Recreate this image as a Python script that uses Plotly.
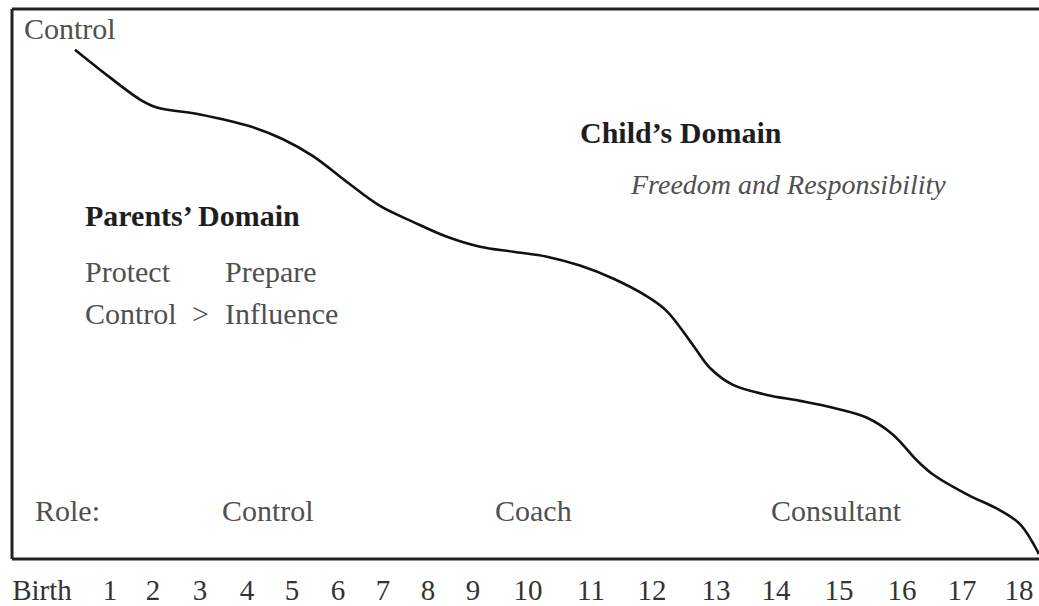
import plotly.graph_objects as go

# Age tick labels along the bottom
tick_labels = ["Birth"] + [str(i) for i in range(1, 19)]
tick_pos = [42, 110, 153, 200, 247, 292, 338, 383, 428, 473, 528, 591, 652, 716, 776, 839, 902, 962, 1019]

# Parental control curve (x along the age scale, y = degree of control)
curve_x = [75, 100, 140, 157, 200, 250, 283, 313, 347, 380, 413, 447, 480, 513, 547, 580,
           613, 647, 667, 693, 710, 733, 767, 800, 833, 867, 893, 917, 933, 967, 1000, 1020, 1039]
curve_y = [509, 489, 459, 451, 444, 432, 419, 402, 376, 352, 336, 321, 311, 306, 301, 292,
           279, 261, 246, 212, 189, 172, 162, 156, 149, 139, 122, 96, 82, 62, 46, 32, 2]

# Role labels along the bottom of the box
roles = ["Control", "Coach", "Consultant"]
role_x = [268, 533, 836]

FONT = "Liberation Serif"
GRAY = "#505050"
DARK = "#1e1e1e"

fig = go.Figure()
fig.add_trace(go.Scatter(x=curve_x, y=curve_y, mode="lines",
                         line=dict(color="#111111", width=2.6, shape="spline", smoothing=1.0),
                         hoverinfo="skip", showlegend=False))

ann = []
def txt(x, y, s, size=30, color=GRAY, anchor="left"):
    ann.append(dict(x=x, y=y, xref="x", yref="y", text=s, showarrow=False,
                    xanchor=anchor, yanchor="middle",
                    font=dict(family=FONT, size=size, color=color)))

txt(22, 530, "Control")
txt(578, 426, "<b>Child’s Domain</b>", color=DARK, size=30)
txt(628, 374, "<i>Freedom and Responsibility</i>", size=28)
txt(83, 342, "<b>Parents’ Domain</b>", color=DARK, size=30)
txt(83, 286, "Protect")
txt(223, 286, "Prepare")
txt(83, 244, "Control")
txt(200, 244, "&gt;", anchor="center")
txt(223, 244, "Influence")
txt(33, 46, "Role:")
for r, x in zip(roles, role_x):
    txt(x, 46, r, anchor="center")

fig.update_layout(
    width=1039, height=606,
    margin=dict(l=12, r=0, t=9, b=44),
    paper_bgcolor="white", plot_bgcolor="white",
    annotations=ann,
    xaxis=dict(range=[12, 1039], showgrid=False, zeroline=False, showline=False,
               tickmode="array", tickvals=tick_pos, ticktext=tick_labels,
               ticks="outside", ticklen=5, tickcolor="rgba(0,0,0,0)",
               tickfont=dict(family=FONT, size=29, color="#333333")),
    yaxis=dict(range=[-3, 550], showgrid=False, zeroline=False, showline=False,
               showticklabels=False, ticks=""),
    shapes=[
        dict(type="line", xref="paper", yref="paper", x0=0, x1=0, y0=0, y1=1,
             line=dict(color="#222222", width=3)),
        dict(type="line", xref="paper", yref="paper", x0=0, x1=1, y0=1, y1=1,
             line=dict(color="#222222", width=3)),
        dict(type="line", xref="paper", yref="paper", x0=0, x1=1, y0=0, y1=0,
             line=dict(color="#222222", width=3)),
    ],
)

fig.write_html("out.html", config={"displayModeBar": False},
               post_script="document.body.style.margin='0';document.body.style.overflow='hidden';")
